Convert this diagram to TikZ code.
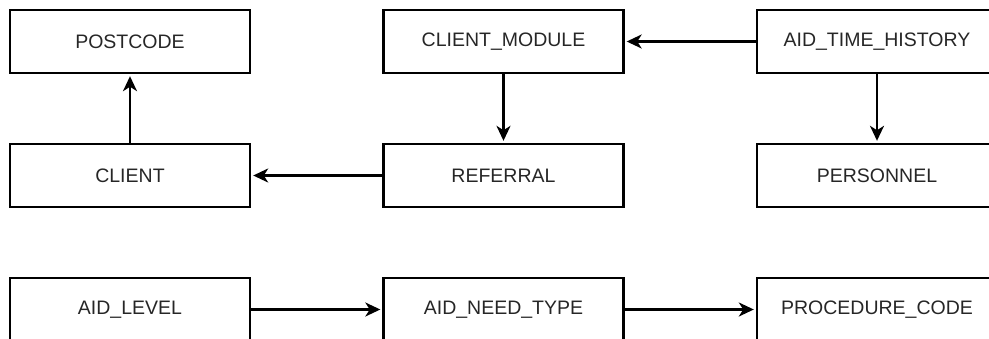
\documentclass[tikz,border=0pt]{standalone}
\usepackage{fontspec}
\setmainfont{Liberation Sans}
\usetikzlibrary{arrows.meta}
\begin{document}
\begin{tikzpicture}[x=1pt,y=-1pt,
  entity/.style={draw=black, line width=2.4pt, minimum width=240pt,
    minimum height=63pt, inner sep=0pt,
    font=\fontsize{19.5}{23}\selectfont, text=black!85},
  link/.style={line width=2.4pt,
    -{Stealth[length=15pt,width=14pt,inset=4.5pt]}, shorten >=2pt}]
\useasboundingbox (0,0) rectangle (989,338);
\clip (0,0) rectangle (989,338);

% top row
\node[entity] (postcode)     at (130,41.5)   {POSTCODE};
\node[entity] (clientmodule) at (503.5,41.5) {CLIENT\_MODULE};
\node[entity] (aidtime)      at (877,41.5)   {AID\_TIME\_HISTORY};
% middle row
\node[entity] (client)       at (130,175.5)   {CLIENT};
\node[entity] (referral)     at (503.5,175.5) {REFERRAL};
\node[entity] (personnel)    at (877,175.5)   {PERSONNEL};
% bottom row
\node[entity] (aidlevel)     at (130,309.5)   {AID\_LEVEL};
\node[entity] (aidneed)      at (503.5,309.5) {AID\_NEED\_TYPE};
\node[entity] (proccode)     at (877,309.5)   {PROCEDURE\_CODE};

% relations
\draw[link] (client) -- (postcode);
\draw[link] (referral) -- (client);
\draw[link] (clientmodule) -- (referral);
\draw[link] (aidtime) -- (clientmodule);
\draw[link] (aidtime) -- (personnel);
\draw[link] (aidlevel) -- (aidneed);
\draw[link] (aidneed) -- (proccode);
\end{tikzpicture}
\end{document}
